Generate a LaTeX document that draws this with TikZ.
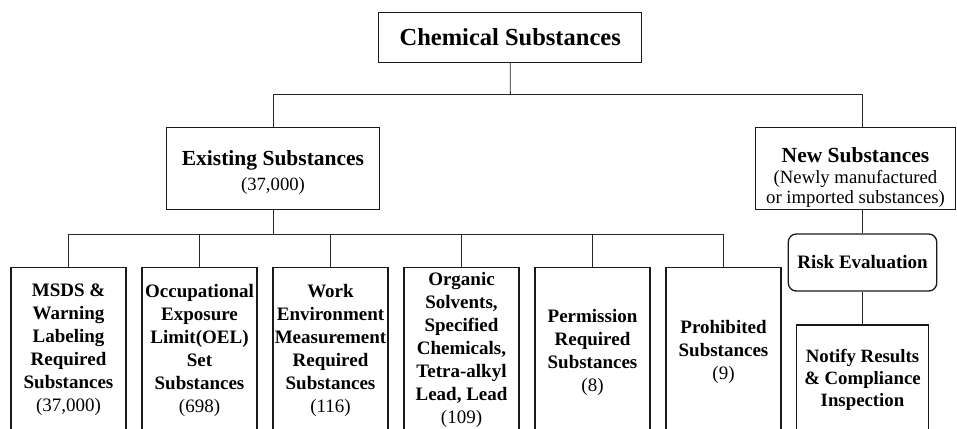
\documentclass[tikz,border=0pt]{standalone}
\usepackage{fontspec}
\setmainfont{Liberation Serif}
\begin{document}
\begin{tikzpicture}[x=1pt,y=-1pt,
  box/.style={draw=black!90, line width=1.3pt, inner sep=0pt, align=center},
  conn/.style={draw=black!85, line width=0.9pt},
  txt/.style={inner sep=0pt, align=center},
  leaf/.style={box, minimum width=115pt, minimum height=166pt, anchor=north},
  leaftext/.style={txt, font=\fontsize{19}{23}\selectfont\bfseries}]
\useasboundingbox (0,0) rectangle (957,428);
\fill[white] (0,0) rectangle (957,428);
\clip (0,0) rectangle (957,428);

% top
\node[box, minimum width=263pt, minimum height=49.6pt,
      font=\fontsize{24.5}{28}\selectfont\bfseries] (chem) at (510.2,37.5) {Chemical Substances};

% second level
\node[box, minimum width=213.4pt, minimum height=82.4pt] (exist) at (273,168.5) {};
\node[txt, font=\fontsize{18.7}{24.3}\selectfont] (existtxt) at (273,172.5)
  {{\bfseries\fontsize{21.5}{24.3}\selectfont Existing Substances}\\(37,000)};

\node[box, minimum width=200.4pt, minimum height=82pt] (new) at (855.5,168.5) {};
\node[txt, font=\fontsize{18.7}{20.5}\selectfont] (newtxt) at (855.5,178)
  {{\bfseries\fontsize{21.5}{20.5}\selectfont New Substances}\\(Newly manufactured\\or imported substances)};

% leaves
\node[leaf] (leaf1) at (68.5,266.7) {};
\node[leaf] (leaf2) at (199.5,266.7) {};
\node[leaf] (leaf3) at (330.5,266.7) {};
\node[leaf] (leaf4) at (461.5,266.7) {};
\node[leaf] (leaf5) at (592.5,266.7) {};
\node[leaf] (leaf6) at (723.5,266.7) {};

\node[leaftext] (t1) at (68.5,350) {MSDS \&\\Warning\\Labeling\\Required\\Substances\\{\mdseries(37,000)}};
\node[leaftext] (t2) at (199.5,350) {Occupational\\Exposure\\Limit(OEL)\\Set\\Substances\\{\mdseries(698)}};
\node[leaftext] (t3) at (330.5,350) {Work\\Environment\\Measurement\\Required\\Substances\\{\mdseries(116)}};
\node[leaftext] (t4) at (461.5,350) {Organic\\Solvents,\\Specified\\Chemicals,\\Tetra-alkyl\\Lead, Lead\\{\mdseries(109)}};
\node[leaftext] (t5) at (592.5,352) {Permission\\Required\\Substances\\{\mdseries(8)}};
\node[leaftext] (t6) at (723.5,351.5) {Prohibited\\Substances\\{\mdseries(9)}};

% new substances branch
\node[box, rounded corners=8pt, minimum width=148.4pt, minimum height=57pt,
      font=\fontsize{19}{22}\selectfont\bfseries] (risk) at (862.5,262.5) {Risk Evaluation};
\node[box, minimum width=131.6pt, minimum height=112pt, anchor=north] (notify) at (862.5,324.3) {};
\node[txt, font=\fontsize{18.8}{22.2}\selectfont\bfseries] (notifytxt) at (862.5,380)
  {Notify Results\\\& Compliance\\Inspection};

% connectors
\coordinate (bus1) at (510.3,94.7);
\draw[conn] (chem.south) -- (bus1);
\draw[conn] (exist.north) |- (bus1);
\draw[conn] ([xshift=6.8pt]new.north) |- (bus1);

\coordinate (bus2) at (273,234);
\draw[conn] (exist.south) -- (bus2);
\foreach \i in {1,...,6} { \draw[conn] (leaf\i.north) |- (bus2); }

\draw[conn] (risk.north) -- (risk.north |- new.south);
\draw[conn] (risk.south) -- (notify.north);
\end{tikzpicture}
\end{document}
